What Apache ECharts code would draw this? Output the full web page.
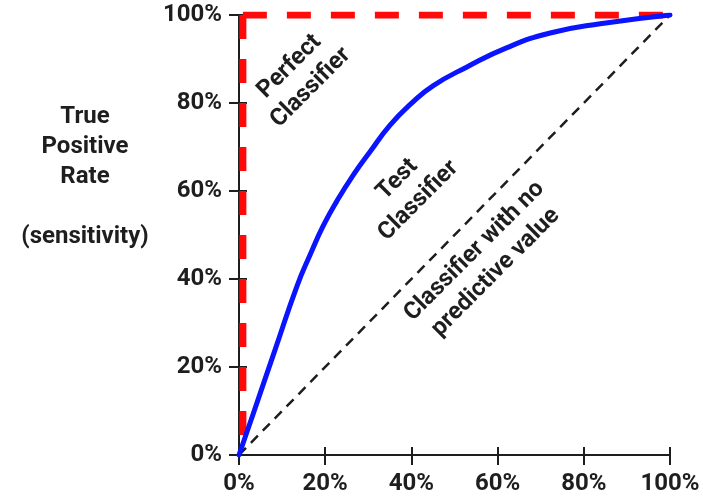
<!DOCTYPE html>
<html>
<head>
<meta charset="utf-8">
<script src="https://cdn.jsdelivr.net/npm/echarts@6/dist/echarts.min.js"></script>
<style>
html,body{margin:0;padding:0;background:#fff;}
#main{width:703px;height:504px;}
</style>
</head>
<body>
<div id="main"></div>
<script>
// ---- data ----
const tickValues = [0, 20, 40, 60, 80, 100];
const tickLabels = ['0%', '20%', '40%', '60%', '80%', '100%'];
const testFPR = [0, 3.2, 8.4, 13.5, 16.5, 19.5, 22.7, 26.5, 30.4, 35.0, 40.0, 45.0, 52.9, 62.2, 72.2, 83.8, 100];
const testTPR = [0, 9.1, 24.0, 38.5, 45.5, 52.0, 57.7, 63.6, 68.9, 74.9, 79.9, 83.9, 88.2, 92.6, 95.9, 98.0, 100];
const perfectTopX = [0.9, 100];
const perfectTopY = [100, 100];
const perfectLeftX = [0.9, 0.9];
const perfectLeftY = [100, 0];
const randomX = [0, 100];
const randomY = [0, 100];
const yTitle = ['True', 'Positive', 'Rate', '', '(sensitivity)'];
const annotations = [
  { text: ['Perfect', 'Classifier'], x: 14.2, y: 85.9 },
  { text: ['Test', 'Classifier'], x: 39.2, y: 60.2 },
  { text: ['Classifier with no', 'predictive value'], x: 57.1, y: 43.9 }
];

const zip = (a, b) => a.map((v, i) => [v, b[i]]);
const FONT = 'Roboto, "Liberation Sans", Arial, sans-serif';
const INK = '#1e1e1e';
const FS = 24;

const chart = echarts.init(document.getElementById('main'), null, { renderer: 'canvas' });

function axisPair(kind) {
  const labelFmt = v => tickLabels[tickValues.indexOf(v)] || '';
  const base = {
    type: 'value', min: 0, max: 100, interval: 20,
    splitLine: { show: false },
    position: kind === 'x' ? 'bottom' : 'left'
  };
  return [
    Object.assign({}, base, {
      axisLine: { show: true, onZero: false, lineStyle: { color: INK, width: 2 } },
      axisTick: { show: true, inside: false, length: 10, lineStyle: { color: INK, width: 2 } },
      axisLabel: {
        formatter: labelFmt, color: INK, fontSize: FS, fontWeight: 'bold', fontFamily: FONT,
        margin: 17
      }
    }),
    Object.assign({}, base, {
      axisLine: { show: false, onZero: false },
      axisTick: { show: true, inside: true, length: 8, lineStyle: { color: INK, width: 2 } },
      axisLabel: { show: false }
    })
  ];
}

const option = {
  backgroundColor: '#ffffff',
  animation: false,
  grid: { left: 239, right: 33, top: 15, bottom: 49, containLabel: false },
  xAxis: axisPair('x'),
  yAxis: axisPair('y'),
  series: [
    {
      type: 'line', data: zip(randomX, randomY), symbol: 'none', z: 1,
      lineStyle: { color: INK, width: 2.5, type: [10, 7] }
    },
    {
      type: 'line', data: zip(perfectLeftX, perfectLeftY), symbol: 'none', z: 2,
      lineStyle: { color: '#ff0a0a', width: 7, type: [24, 20], cap: 'butt' }
    },
    {
      type: 'line', data: zip(perfectTopX, perfectTopY), symbol: 'none', z: 2,
      lineStyle: { color: '#ff0a0a', width: 7, type: [24, 20], cap: 'butt' }
    },
    {
      type: 'line', data: zip(testFPR, testTPR), symbol: 'none', smooth: 0.5, z: 3,
      lineStyle: { color: '#0a14ff', width: 5, cap: 'round' }
    }
  ]
};
chart.setOption(option);

const graphics = [{
  type: 'text', x: 85, y: 102, z: 10,
  style: {
    text: yTitle.join('\n'), align: 'center', verticalAlign: 'top',
    font: 'bold ' + FS + 'px ' + FONT, fill: INK, lineHeight: 30
  }
}];
annotations.forEach(a => {
  const p = chart.convertToPixel({ xAxisIndex: 0, yAxisIndex: 0 }, [a.x, a.y]);
  graphics.push({
    type: 'text', x: p[0], y: p[1], rotation: Math.PI / 4, z: 10,
    style: {
      text: a.text.join('\n'), align: 'center', verticalAlign: 'middle',
      font: 'bold ' + FS + 'px ' + FONT, fill: INK, lineHeight: 30
    }
  });
});
chart.setOption({ graphic: graphics });
</script>
</body>
</html>
